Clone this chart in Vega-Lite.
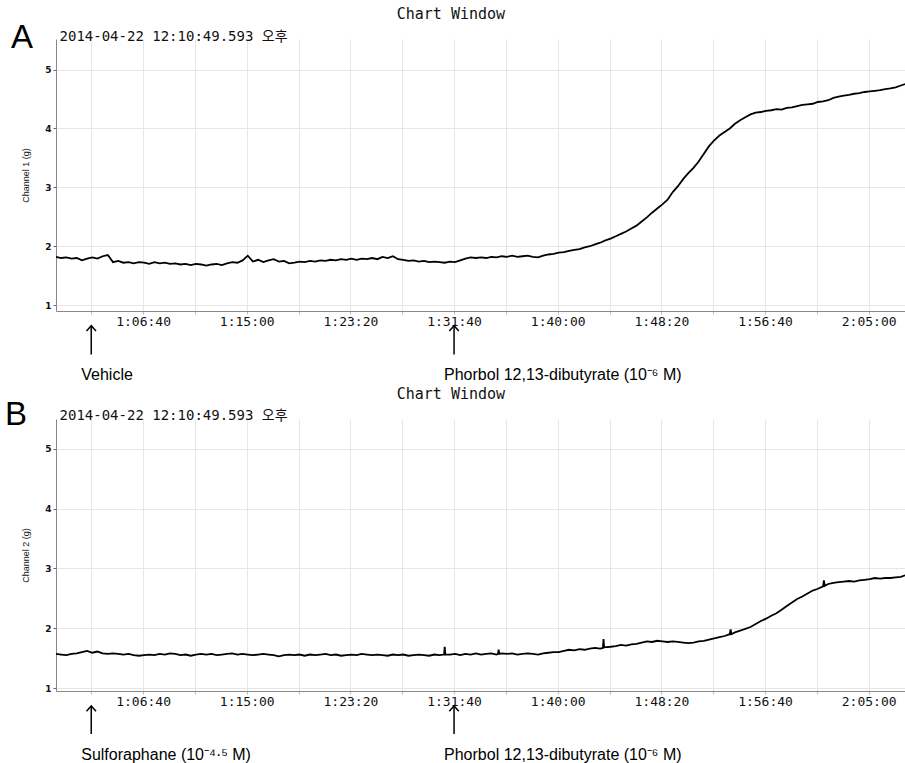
{
 "$schema": "https://vega.github.io/schema/vega-lite/v6.json",
 "background": "white",
 "padding": {"left": 4, "top": 7, "right": 0, "bottom": 0},
 "bounds": "flush",
 "spacing": 108,
 "config": {
  "view": {"stroke": null},
  "axis": {"gridColor": "#e6e6e6", "domainColor": "#888", "tickColor": "#666", "labelColor": "#111", "titleColor": "#111"}
 },
 "datasets": {
  "a": [
   {"t":3580,"v":1.82},{"t":3605,"v":1.80},{"t":3630,"v":1.81},{"t":3655,"v":1.79},{"t":3680,"v":1.80},{"t":3705,"v":1.76},{"t":3730,"v":1.79},{"t":3755,"v":1.81},{"t":3780,"v":1.79},{"t":3805,"v":1.83},{"t":3830,"v":1.85},{"t":3855,"v":1.73},{"t":3880,"v":1.75},{"t":3905,"v":1.72},{"t":3930,"v":1.73},{"t":3955,"v":1.71},{"t":3980,"v":1.73},{"t":4005,"v":1.72},{"t":4030,"v":1.70},{"t":4055,"v":1.73},{"t":4080,"v":1.71},{"t":4105,"v":1.72},{"t":4130,"v":1.70},{"t":4155,"v":1.71},{"t":4180,"v":1.69},{"t":4205,"v":1.70},{"t":4230,"v":1.68},{"t":4255,"v":1.70},{"t":4280,"v":1.69},{"t":4305,"v":1.67},{"t":4330,"v":1.69},{"t":4355,"v":1.70},{"t":4380,"v":1.68},{"t":4405,"v":1.71},{"t":4430,"v":1.73},{"t":4455,"v":1.72},{"t":4480,"v":1.76},{"t":4505,"v":1.84},{"t":4530,"v":1.74},{"t":4555,"v":1.77},{"t":4580,"v":1.73},{"t":4605,"v":1.76},{"t":4630,"v":1.78},{"t":4655,"v":1.74},{"t":4680,"v":1.75},{"t":4705,"v":1.71},{"t":4730,"v":1.72},{"t":4755,"v":1.74},{"t":4780,"v":1.73},{"t":4805,"v":1.75},{"t":4830,"v":1.74},{"t":4855,"v":1.76},{"t":4880,"v":1.75},{"t":4905,"v":1.77},{"t":4930,"v":1.76},{"t":4955,"v":1.78},{"t":4980,"v":1.77},{"t":5005,"v":1.79},{"t":5030,"v":1.77},{"t":5055,"v":1.79},{"t":5080,"v":1.78},{"t":5105,"v":1.80},{"t":5130,"v":1.78},{"t":5155,"v":1.82},{"t":5180,"v":1.80},{"t":5205,"v":1.83},{"t":5230,"v":1.78},{"t":5255,"v":1.77},{"t":5280,"v":1.75},{"t":5305,"v":1.76},{"t":5330,"v":1.74},{"t":5355,"v":1.75},{"t":5380,"v":1.73},{"t":5405,"v":1.74},{"t":5430,"v":1.73},{"t":5455,"v":1.72},{"t":5480,"v":1.74},{"t":5505,"v":1.73},{"t":5530,"v":1.76},{"t":5555,"v":1.79},{"t":5580,"v":1.81},{"t":5605,"v":1.80},{"t":5630,"v":1.81},{"t":5655,"v":1.80},{"t":5680,"v":1.82},{"t":5705,"v":1.81},{"t":5730,"v":1.83},{"t":5755,"v":1.82},{"t":5780,"v":1.84},{"t":5805,"v":1.82},{"t":5830,"v":1.83},{"t":5855,"v":1.84},{"t":5880,"v":1.82},{"t":5905,"v":1.81},{"t":5930,"v":1.84},{"t":5955,"v":1.86},{"t":5980,"v":1.87},{"t":6005,"v":1.89},{"t":6030,"v":1.90},{"t":6055,"v":1.92},{"t":6080,"v":1.94},{"t":6105,"v":1.95},{"t":6130,"v":1.98},{"t":6155,"v":2.00},{"t":6180,"v":2.03},{"t":6205,"v":2.06},{"t":6230,"v":2.10},{"t":6255,"v":2.13},{"t":6280,"v":2.17},{"t":6305,"v":2.21},{"t":6330,"v":2.25},{"t":6355,"v":2.30},{"t":6380,"v":2.35},{"t":6405,"v":2.42},{"t":6430,"v":2.49},{"t":6455,"v":2.57},{"t":6480,"v":2.64},{"t":6505,"v":2.71},{"t":6530,"v":2.79},{"t":6555,"v":2.92},{"t":6580,"v":3.02},{"t":6605,"v":3.14},{"t":6630,"v":3.24},{"t":6655,"v":3.33},{"t":6680,"v":3.44},{"t":6705,"v":3.57},{"t":6730,"v":3.70},{"t":6755,"v":3.80},{"t":6780,"v":3.88},{"t":6805,"v":3.94},{"t":6830,"v":4.00},{"t":6855,"v":4.08},{"t":6880,"v":4.14},{"t":6905,"v":4.19},{"t":6930,"v":4.24},{"t":6955,"v":4.27},{"t":6980,"v":4.28},{"t":7005,"v":4.30},{"t":7030,"v":4.31},{"t":7055,"v":4.33},{"t":7080,"v":4.32},{"t":7105,"v":4.35},{"t":7130,"v":4.36},{"t":7155,"v":4.38},{"t":7180,"v":4.40},{"t":7205,"v":4.41},{"t":7230,"v":4.42},{"t":7255,"v":4.45},{"t":7280,"v":4.46},{"t":7305,"v":4.48},{"t":7330,"v":4.52},{"t":7355,"v":4.54},{"t":7380,"v":4.56},{"t":7405,"v":4.57},{"t":7430,"v":4.59},{"t":7455,"v":4.60},{"t":7480,"v":4.62},{"t":7505,"v":4.63},{"t":7530,"v":4.64},{"t":7555,"v":4.65},{"t":7580,"v":4.67},{"t":7605,"v":4.68},{"t":7630,"v":4.70},{"t":7655,"v":4.73},{"t":7680,"v":4.76}
  ],
  "b": [
   {"t":3580,"v":1.57},{"t":3605,"v":1.56},{"t":3630,"v":1.55},{"t":3655,"v":1.57},{"t":3680,"v":1.58},{"t":3705,"v":1.60},{"t":3730,"v":1.62},{"t":3755,"v":1.59},{"t":3780,"v":1.61},{"t":3805,"v":1.58},{"t":3830,"v":1.57},{"t":3855,"v":1.58},{"t":3880,"v":1.57},{"t":3905,"v":1.56},{"t":3930,"v":1.57},{"t":3955,"v":1.55},{"t":3980,"v":1.54},{"t":4005,"v":1.55},{"t":4030,"v":1.56},{"t":4055,"v":1.55},{"t":4080,"v":1.57},{"t":4105,"v":1.56},{"t":4130,"v":1.58},{"t":4155,"v":1.57},{"t":4180,"v":1.55},{"t":4205,"v":1.56},{"t":4230,"v":1.54},{"t":4255,"v":1.56},{"t":4280,"v":1.57},{"t":4305,"v":1.56},{"t":4330,"v":1.57},{"t":4355,"v":1.55},{"t":4380,"v":1.56},{"t":4405,"v":1.57},{"t":4430,"v":1.58},{"t":4455,"v":1.56},{"t":4480,"v":1.57},{"t":4505,"v":1.56},{"t":4530,"v":1.55},{"t":4555,"v":1.56},{"t":4580,"v":1.57},{"t":4605,"v":1.56},{"t":4630,"v":1.55},{"t":4655,"v":1.53},{"t":4680,"v":1.55},{"t":4705,"v":1.56},{"t":4730,"v":1.55},{"t":4755,"v":1.56},{"t":4780,"v":1.54},{"t":4805,"v":1.56},{"t":4830,"v":1.55},{"t":4855,"v":1.56},{"t":4880,"v":1.57},{"t":4905,"v":1.55},{"t":4930,"v":1.56},{"t":4955,"v":1.54},{"t":4980,"v":1.55},{"t":5005,"v":1.56},{"t":5030,"v":1.55},{"t":5055,"v":1.57},{"t":5080,"v":1.56},{"t":5105,"v":1.55},{"t":5130,"v":1.56},{"t":5155,"v":1.55},{"t":5180,"v":1.54},{"t":5205,"v":1.56},{"t":5230,"v":1.55},{"t":5255,"v":1.56},{"t":5280,"v":1.54},{"t":5305,"v":1.55},{"t":5330,"v":1.56},{"t":5355,"v":1.55},{"t":5380,"v":1.54},{"t":5405,"v":1.56},{"t":5430,"v":1.55},{"t":5452,"v":1.56},{"t":5455,"v":1.69},{"t":5458,"v":1.56},{"t":5480,"v":1.56},{"t":5505,"v":1.57},{"t":5530,"v":1.55},{"t":5555,"v":1.57},{"t":5580,"v":1.56},{"t":5605,"v":1.58},{"t":5630,"v":1.56},{"t":5655,"v":1.57},{"t":5680,"v":1.58},{"t":5705,"v":1.56},{"t":5712,"v":1.57},{"t":5715,"v":1.64},{"t":5718,"v":1.57},{"t":5730,"v":1.58},{"t":5755,"v":1.57},{"t":5780,"v":1.58},{"t":5805,"v":1.56},{"t":5830,"v":1.57},{"t":5855,"v":1.58},{"t":5880,"v":1.57},{"t":5905,"v":1.56},{"t":5930,"v":1.58},{"t":5955,"v":1.59},{"t":5980,"v":1.60},{"t":6005,"v":1.60},{"t":6030,"v":1.62},{"t":6055,"v":1.64},{"t":6080,"v":1.63},{"t":6105,"v":1.65},{"t":6130,"v":1.64},{"t":6155,"v":1.66},{"t":6180,"v":1.67},{"t":6205,"v":1.66},{"t":6218,"v":1.67},{"t":6221,"v":1.82},{"t":6224,"v":1.68},{"t":6255,"v":1.69},{"t":6280,"v":1.70},{"t":6305,"v":1.72},{"t":6330,"v":1.71},{"t":6355,"v":1.73},{"t":6380,"v":1.74},{"t":6405,"v":1.76},{"t":6430,"v":1.78},{"t":6455,"v":1.77},{"t":6480,"v":1.79},{"t":6505,"v":1.78},{"t":6530,"v":1.77},{"t":6555,"v":1.78},{"t":6580,"v":1.77},{"t":6605,"v":1.76},{"t":6630,"v":1.75},{"t":6655,"v":1.76},{"t":6680,"v":1.78},{"t":6705,"v":1.79},{"t":6730,"v":1.81},{"t":6755,"v":1.83},{"t":6780,"v":1.85},{"t":6805,"v":1.87},{"t":6830,"v":1.90},{"t":6834,"v":1.98},{"t":6838,"v":1.90},{"t":6855,"v":1.93},{"t":6880,"v":1.96},{"t":6905,"v":1.99},{"t":6930,"v":2.02},{"t":6955,"v":2.07},{"t":6980,"v":2.12},{"t":7005,"v":2.16},{"t":7030,"v":2.21},{"t":7055,"v":2.25},{"t":7080,"v":2.31},{"t":7105,"v":2.37},{"t":7130,"v":2.43},{"t":7155,"v":2.49},{"t":7180,"v":2.53},{"t":7205,"v":2.58},{"t":7230,"v":2.63},{"t":7255,"v":2.66},{"t":7280,"v":2.70},{"t":7284,"v":2.80},{"t":7288,"v":2.71},{"t":7305,"v":2.74},{"t":7330,"v":2.76},{"t":7355,"v":2.77},{"t":7380,"v":2.78},{"t":7405,"v":2.79},{"t":7430,"v":2.78},{"t":7455,"v":2.80},{"t":7480,"v":2.81},{"t":7505,"v":2.82},{"t":7530,"v":2.84},{"t":7555,"v":2.83},{"t":7580,"v":2.84},{"t":7605,"v":2.84},{"t":7630,"v":2.85},{"t":7655,"v":2.86},{"t":7680,"v":2.89}
  ],
  "annA": [
   {"t":3750,"label":"Vehicle"},
   {"t":5500,"label":"Phorbol 12,13-dibutyrate (10⁻⁶ M)"}
  ],
  "annB": [
   {"t":3750,"label":"Sulforaphane (10⁻⁴·⁵ M)"},
   {"t":5500,"label":"Phorbol 12,13-dibutyrate (10⁻⁶ M)"}
  ]
 },
 "vconcat": [
  {
   "width": 850, "height": 272,
   "layer": [
    {"data": {"name": "a"},
     "mark": {"type": "line", "color": "black", "strokeWidth": 1.8},
     "encoding": {
      "x": {"field": "t", "type": "quantitative", "scale": {"domain": [3580, 7680], "nice": false, "zero": false},
            "axis": {"title": null, "values": [3750,4000,4250,4500,4750,5000,5250,5500,5750,6000,6250,6500,6750,7000,7250,7500],
                     "labelExpr": "datum.value % 500 === 0 ? utcFormat(datum.value * 1000, '%-H:%M:%S') : ''",
                     "labelOverlap": false, "labelFlush": false, "grid": true, "tickSize": 3, "tickColor": "#bbb",
                     "labelFont": "DejaVu Sans Mono", "labelFontSize": 13, "labelPadding": 1}},
      "y": {"field": "v", "type": "quantitative", "scale": {"domain": [0.9, 5.52], "nice": false, "zero": false},
            "axis": {"title": "Channel 1 (g)", "values": [1,1.5,2,2.5,3,3.5,4,4.5,5,5.5],
                     "labelExpr": "datum.value % 1 === 0 ? format(datum.value, 'd') : ''",
                     "tickOpacity": {"condition": {"test": "datum.value % 1 === 0", "value": 1}, "value": 0},
                     "grid": true, "tickSize": 3, "labelPadding": 2, "labelFont": "DejaVu Sans", "labelFontSize": 9, "labelFontWeight": "bold",
                     "titleFont": "Liberation Sans Narrow, Liberation Sans", "titleFontSize": 9, "titleFontWeight": "normal", "titlePadding": 14}}
     }},
    {"data": {"name": "annA"},
     "mark": {"type": "rule", "color": "black", "strokeWidth": 1.5},
     "encoding": {"x": {"field": "t", "type": "quantitative"}, "y": {"datum": 0.65}, "y2": {"datum": 0.16}}},
    {"data": {"name": "annA"},
     "mark": {"type": "point", "shape": "M-1,1.1L0,0L1,1.1", "size": 90, "filled": false, "color": "black", "strokeWidth": 1.5, "opacity": 1},
     "encoding": {"x": {"field": "t", "type": "quantitative"}, "y": {"datum": 0.65}}},
    {"data": {"name": "annA"},
     "mark": {"type": "text", "align": "left", "baseline": "middle", "dx": -10, "font": "Liberation Sans", "fontSize": 16, "color": "black"},
     "encoding": {"x": {"field": "t", "type": "quantitative"}, "y": {"datum": -0.18}, "text": {"field": "label"}}},
    {"data": {"values": [{}]},
     "mark": {"type": "text", "text": "Chart Window", "align": "center", "baseline": "middle", "font": "DejaVu Sans Mono", "fontSize": 15, "color": "#111"},
     "encoding": {"x": {"datum": 5485}, "y": {"datum": 5.94}}},
    {"data": {"values": [{}]},
     "mark": {"type": "text", "text": "2014-04-22 12:10:49.593 오후", "align": "left", "baseline": "middle", "font": "DejaVu Sans Mono, Noto Sans CJK KR", "fontSize": 14, "color": "#111"},
     "encoding": {"x": {"datum": 3597}, "y": {"datum": 5.56}}},
    {"data": {"values": [{}]},
     "mark": {"type": "text", "text": "A", "align": "center", "baseline": "middle", "font": "Liberation Sans", "fontSize": 33, "color": "black"},
     "encoding": {"x": {"datum": 3416}, "y": {"datum": 5.53}}}
   ]
  },
  {
   "width": 850, "height": 272,
   "layer": [
    {"data": {"name": "b"},
     "mark": {"type": "line", "color": "black", "strokeWidth": 1.8},
     "encoding": {
      "x": {"field": "t", "type": "quantitative", "scale": {"domain": [3580, 7680], "nice": false, "zero": false},
            "axis": {"title": null, "values": [3750,4000,4250,4500,4750,5000,5250,5500,5750,6000,6250,6500,6750,7000,7250,7500],
                     "labelExpr": "datum.value % 500 === 0 ? utcFormat(datum.value * 1000, '%-H:%M:%S') : ''",
                     "labelOverlap": false, "labelFlush": false, "grid": true, "tickSize": 3, "tickColor": "#bbb",
                     "labelFont": "DejaVu Sans Mono", "labelFontSize": 13, "labelPadding": 1}},
      "y": {"field": "v", "type": "quantitative", "scale": {"domain": [0.95, 5.5], "nice": false, "zero": false},
            "axis": {"title": "Channel 2 (g)", "values": [1,1.5,2,2.5,3,3.5,4,4.5,5,5.5],
                     "labelExpr": "datum.value % 1 === 0 ? format(datum.value, 'd') : ''",
                     "tickOpacity": {"condition": {"test": "datum.value % 1 === 0", "value": 1}, "value": 0},
                     "grid": true, "tickSize": 3, "labelPadding": 2, "labelFont": "DejaVu Sans", "labelFontSize": 9, "labelFontWeight": "bold",
                     "titleFont": "Liberation Sans Narrow, Liberation Sans", "titleFontSize": 9, "titleFontWeight": "normal", "titlePadding": 14}}
     }},
    {"data": {"name": "annB"},
     "mark": {"type": "rule", "color": "black", "strokeWidth": 1.5},
     "encoding": {"x": {"field": "t", "type": "quantitative"}, "y": {"datum": 0.70}, "y2": {"datum": 0.23}}},
    {"data": {"name": "annB"},
     "mark": {"type": "point", "shape": "M-1,1.1L0,0L1,1.1", "size": 90, "filled": false, "color": "black", "strokeWidth": 1.5, "opacity": 1},
     "encoding": {"x": {"field": "t", "type": "quantitative"}, "y": {"datum": 0.70}}},
    {"data": {"name": "annB"},
     "mark": {"type": "text", "align": "left", "baseline": "middle", "dx": -10, "font": "Liberation Sans", "fontSize": 16, "color": "black"},
     "encoding": {"x": {"field": "t", "type": "quantitative"}, "y": {"datum": -0.12}, "text": {"field": "label"}}},
    {"data": {"values": [{}]},
     "mark": {"type": "text", "text": "Chart Window", "align": "center", "baseline": "middle", "font": "DejaVu Sans Mono", "fontSize": 15, "color": "#111"},
     "encoding": {"x": {"datum": 5485}, "y": {"datum": 5.92}}},
    {"data": {"values": [{}]},
     "mark": {"type": "text", "text": "2014-04-22 12:10:49.593 오후", "align": "left", "baseline": "middle", "font": "DejaVu Sans Mono, Noto Sans CJK KR", "fontSize": 14, "color": "#111"},
     "encoding": {"x": {"datum": 3597}, "y": {"datum": 5.55}}},
    {"data": {"values": [{}]},
     "mark": {"type": "text", "text": "B", "align": "center", "baseline": "middle", "font": "Liberation Sans", "fontSize": 33, "color": "black"},
     "encoding": {"x": {"datum": 3387}, "y": {"datum": 5.57}}}
   ]
  }
 ]
}
